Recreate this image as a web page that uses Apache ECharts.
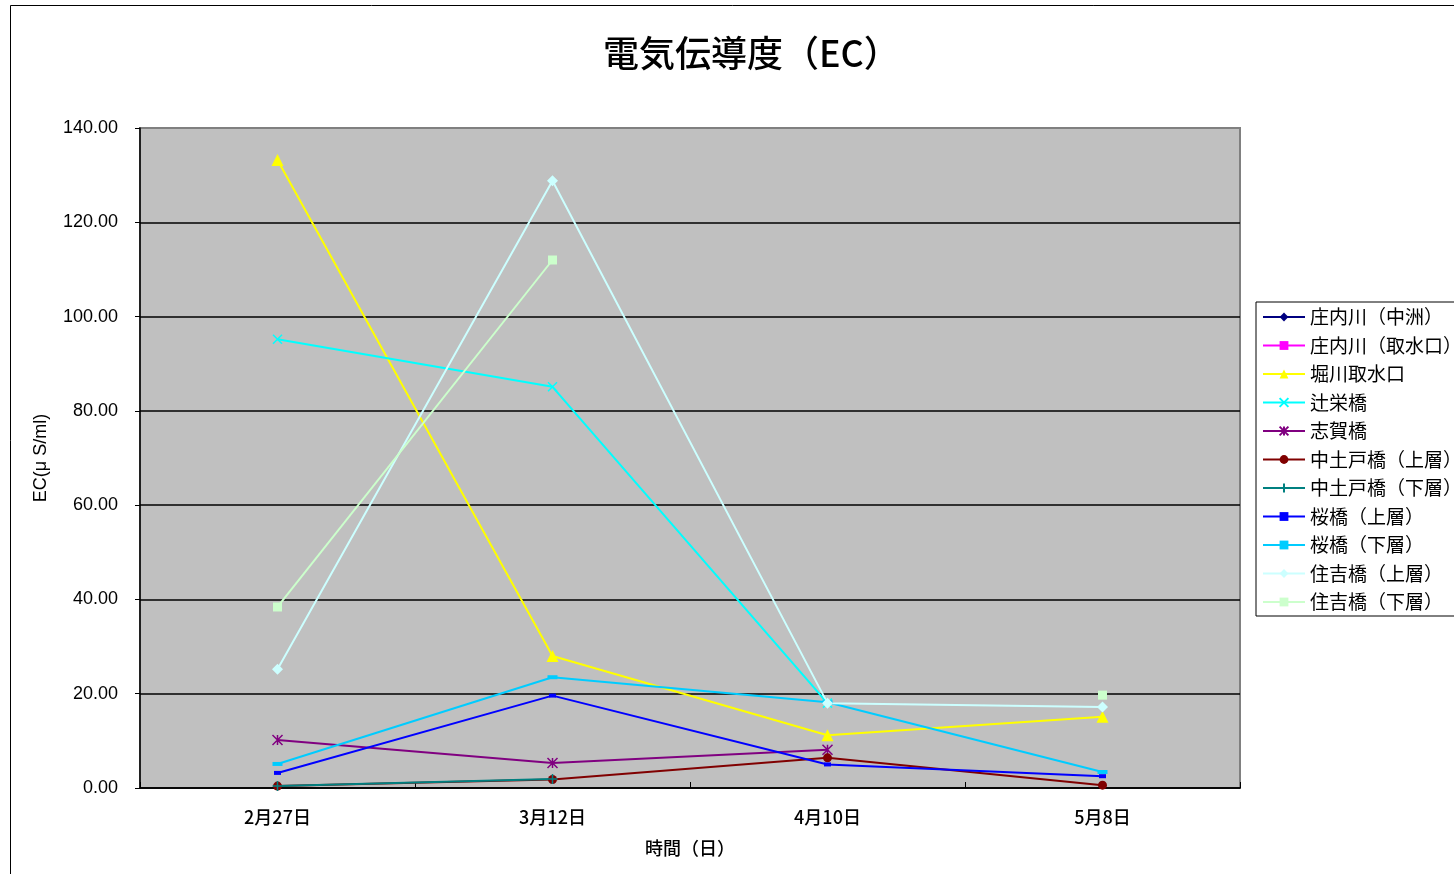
<!DOCTYPE html>
<html>
<head>
<meta charset="utf-8">
<script src="https://cdn.jsdelivr.net/npm/echarts@6/dist/echarts.min.js"></script>
<style>
  html, body { margin: 0; padding: 0; background: #fff; }
  #chart { width: 1454px; height: 874px; }
</style>
</head>
<body>
<div id="chart"></div>
<script>
const categories = ['2月27日', '3月12日', '4月10日', '5月8日']

// 値は図から読み取り (μS/ml)
const shonaiNakasu = [null, null, null, null]
const shonaiShusui = [null, null, null, null]
const horikawaShusui = [133.2, 28.0, 11.2, 15.1]
const tsujiei = [95.2, 85.1, 18.0, null]
const shiga = [10.2, 5.3, 8.1, null]
const nakadoUpper = [0.4, 1.8, 6.4, 0.6]
const nakadoLower = [0.4, 1.9, null, null]
const sakuraUpper = [3.2, 19.6, 5.0, 2.5]
const sakuraLower = [5.1, 23.5, 18.2, 3.4]
const sumiyoshiUpper = [25.2, 128.8, 18.0, 17.2]
const sumiyoshiLower = [38.4, 112.0, null, 19.7]

const yTicks = [0, 20, 40, 60, 80, 100, 120, 140]

const xMark = 'path://M0,0L10,10M10,0L0,10'
const starMark = 'path://M0,0L10,10M10,0L0,10M5,0L5,10'
const plusMark = 'path://M5,0L5,10M0,5L10,5'

const seriesDefs = [
  { name: '庄内川（中洲）', data: shonaiNakasu, color: '#000080', symbol: 'diamond', size: 11 },
  { name: '庄内川（取水口）', data: shonaiShusui, color: '#FF00FF', symbol: 'rect', size: 9 },
  { name: '堀川取水口', data: horikawaShusui, color: '#FFFF00', symbol: 'triangle', size: 12 },
  { name: '辻栄橋', data: tsujiei, color: '#00FFFF', symbol: xMark, size: 9, stroke: true },
  { name: '志賀橋', data: shiga, color: '#800080', symbol: starMark, size: 10, stroke: true },
  { name: '中土戸橋（上層）', data: nakadoUpper, color: '#800000', symbol: 'circle', size: 9 },
  { name: '中土戸橋（下層）', data: nakadoLower, color: '#008080', symbol: plusMark, size: 10, stroke: true },
  { name: '桜橋（上層）', data: sakuraUpper, color: '#0000FF', symbol: 'rect', size: [7, 4] },
  { name: '桜橋（下層）', data: sakuraLower, color: '#00CCFF', symbol: 'rect', size: [10, 4] },
  { name: '住吉橋（上層）', data: sumiyoshiUpper, color: '#CCFFFF', symbol: 'diamond', size: 11 },
  { name: '住吉橋（下層）', data: sumiyoshiLower, color: '#CCFFCC', symbol: 'rect', size: 9 }
]

const font = '"Noto Sans CJK JP", "Noto Sans", sans-serif'
const numFont = '"Liberation Sans", Arial, sans-serif'

const chart = echarts.init(document.getElementById('chart'))

const option = {
  backgroundColor: '#fff',
  animation: false,
  textStyle: { fontFamily: font, color: '#000' },
  title: {
    text: '電気伝導度（EC）',
    left: 598,
    top: 30,
    textStyle: { fontSize: 36, fontWeight: 500, color: '#000', fontFamily: font }
  },
  graphic: [{
    type: 'rect',
    shape: { x: 10.5, y: 5.5, width: 1470, height: 900 },
    style: { fill: 'none', stroke: '#000', lineWidth: 1 },
    silent: true
  }],
  grid: {
    left: 140,
    right: 214,
    top: 128,
    bottom: 86,
    show: true,
    backgroundColor: '#C0C0C0',
    borderColor: '#808080',
    borderWidth: 2
  },
  legend: {
    orient: 'vertical',
    left: 1256,
    top: 302,
    padding: [5, 40, 4, 6],
    borderColor: '#000',
    borderWidth: 1,
    itemWidth: 42,
    itemHeight: 11,
    itemGap: 8.5,
    textStyle: { fontSize: 19, lineHeight: 20, color: '#000', fontFamily: font },
    data: seriesDefs.map(s => s.name)
  },
  xAxis: {
    type: 'category',
    data: categories,
    boundaryGap: true,
    name: '時間（日）',
    nameLocation: 'middle',
    nameGap: 51,
    nameTextStyle: { fontSize: 18, color: '#000', fontWeight: 500 },
    axisLine: { show: true, lineStyle: { color: '#000', width: 1.5 } },
    axisTick: { show: true, inside: true, length: 6, lineStyle: { color: '#000' } },
    axisLabel: { fontSize: 18, color: '#000', margin: 20, fontWeight: 500 },
    splitLine: { show: false }
  },
  yAxis: {
    type: 'value',
    min: 0,
    max: 140,
    interval: 20,
    name: 'EC(μ S/ml)',
    nameLocation: 'middle',
    nameGap: 90,
    nameTextStyle: { fontSize: 18, color: '#000', fontFamily: numFont },
    axisLine: { show: true, lineStyle: { color: '#000', width: 1.5 } },
    axisTick: { show: true, inside: false, length: 5, lineStyle: { color: '#000' } },
    axisLabel: {
      fontSize: 18,
      color: '#000',
      margin: 22,
      padding: [5, 0, 0, 0],
      fontFamily: numFont,
      formatter: v => yTicks.includes(v) ? v.toFixed(2) : ''
    },
    splitLine: { show: true, showMaxLine: false, lineStyle: { color: '#000', width: 1.5 } }
  },
  series: seriesDefs.map(s => ({
    name: s.name,
    type: 'line',
    data: s.data,
    connectNulls: false,
    symbol: s.symbol,
    symbolSize: s.size,
    showSymbol: true,
    showAllSymbol: true,
    itemStyle: s.stroke
      ? { color: s.color, borderColor: s.color, borderWidth: 1.5 }
      : { color: s.color, borderWidth: 0 },
    lineStyle: { color: s.color, width: 2 },
    emphasis: { disabled: true }
  }))
}

chart.setOption(option)
</script>
</body>
</html>
